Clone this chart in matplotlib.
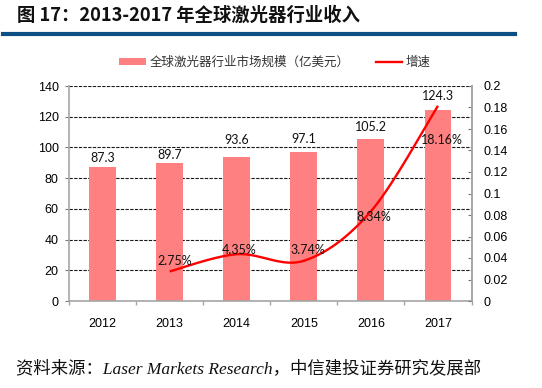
import numpy as np
import matplotlib
matplotlib.use('Agg')
import matplotlib.pyplot as plt
from matplotlib.lines import Line2D
from matplotlib.patches import Patch
from matplotlib.ticker import MultipleLocator, FixedLocator, FuncFormatter

plt.rcParams['font.family'] = ['Liberation Sans', 'Noto Sans CJK SC', 'DejaVu Sans']

years = ['2012', '2013', '2014', '2015', '2016', '2017']
market = [87.3, 89.7, 93.6, 97.1, 105.2, 124.3]
market_labels = ['87.3', '89.7', '93.6', '97.1', '105.2', '124.3']
growth_years = ['2013', '2014', '2015', '2016', '2017']
growth = [0.0275, 0.0435, 0.0374, 0.0834, 0.1816]
growth_labels = ['2.75%', '4.35%', '3.74%', '8.34%', '18.16%']

title = '图 17：2013-2017 年全球激光器行业收入'
source = '资料来源：Laser Markets Research，中信建投证券研究发展部'
bar_name = '全球激光器行业市场规模（亿美元）'
line_name = '增速'

# label offsets (pixels, dy positive = up)
bar_label_dy = [8.9, 8.2, 17.2, 12.8, 12.7, 14.1]
growth_label_off = [(5, 10.7), (2, 4.5), (4.5, 11), (3, -6), (3.5, -34)]

BAR_COLOR = '#ff8080'
LINE_COLOR = '#ff0000'
SPINE = '#a6a6a6'

W, H = 542, 388
fig = plt.figure(figsize=(W / 100, H / 100), dpi=100)

left, right, top, bottom = 69, 471.5, 86, 301
ax = fig.add_axes([left / W, 1 - bottom / H, (right - left) / W, (bottom - top) / H])

x = np.arange(len(years))
ax.bar(x, market, width=0.4, color=BAR_COLOR, zorder=2)
ax.set_xlim(-0.5, len(years) - 0.5)
ax.set_ylim(0, 140)
ax.yaxis.set_major_locator(MultipleLocator(20))
ax.grid(axis='y', linestyle=(0, (3, 1.2)), color='#1a1a1a', lw=0.8, zorder=1)
ax.set_axisbelow(True)

ax.set_xticks(x)
ax.set_xticklabels(years)
ax.xaxis.set_minor_locator(FixedLocator(np.arange(-0.5, len(years), 1.0)))
ax.tick_params(axis='x', which='major', length=0, pad=12, labelsize=9)
ax.tick_params(axis='x', which='minor', length=3, direction='out', color=SPINE, width=1)
ax.tick_params(axis='y', length=3, direction='out', color='#777777', width=0.8, pad=4.5, labelsize=9)

for s in ['top']:
    ax.spines[s].set_visible(False)
for s in ['left', 'bottom', 'right']:
    ax.spines[s].set_color(SPINE)
    ax.spines[s].set_linewidth(1.2)

for xi, v, lab, dy in zip(x, market, market_labels, bar_label_dy):
    ax.annotate(lab, (xi, v), xytext=(0, dy * 0.72), textcoords='offset points',
                ha='center', va='center', fontsize=9, family=['Lato', 'DejaVu Sans'],
                color='#111111', zorder=5)

ax2 = ax.twinx()
ax2.set_ylim(0, 0.2)
ax2.yaxis.set_major_locator(MultipleLocator(0.02))
ax2.yaxis.set_major_formatter(FuncFormatter(lambda v, p: '%g' % round(v, 2)))
ax2.tick_params(axis='y', length=3, direction='in', color='#777777', width=0.8, pad=9, labelsize=9)
for s in ['top', 'left', 'bottom']:
    ax2.spines[s].set_visible(False)
ax2.spines['right'].set_color(SPINE)
ax2.spines['right'].set_linewidth(1.2)


def smooth(px, py, n=40):
    P = np.column_stack([px, py]).astype(float)
    ext = np.vstack([P[0], P, P[-1]])
    out = []
    t = np.linspace(0, 1, n)[:, None]
    for i in range(len(P) - 1):
        p0, p1, p2, p3 = ext[i], ext[i + 1], ext[i + 2], ext[i + 3]
        c1 = p1 + (p2 - p0) / 6
        c2 = p2 - (p3 - p1) / 6
        seg = (1 - t) ** 3 * p1 + 3 * (1 - t) ** 2 * t * c1 + 3 * (1 - t) * t ** 2 * c2 + t ** 3 * p2
        out.append(seg if i == 0 else seg[1:])
    return np.vstack(out)


gx = np.array([years.index(y) for y in growth_years])
curve = smooth(gx, growth)
ax2.plot(curve[:, 0], curve[:, 1], color=LINE_COLOR, lw=1.7, solid_capstyle='butt', zorder=3)

for xi, v, lab, (dx, dy) in zip(gx, growth, growth_labels, growth_label_off):
    ax2.annotate(lab, (xi, v), xytext=(dx * 0.72, dy * 0.72), textcoords='offset points',
                 ha='center', va='center', fontsize=9, family=['Lato', 'DejaVu Sans'],
                 color='#111111', zorder=5)

# legend
handles = [Patch(facecolor=BAR_COLOR, edgecolor='none', label=bar_name),
           Line2D([], [], color=LINE_COLOR, lw=1.7, label=line_name)]
fig.legend(handles=handles, loc='center', bbox_to_anchor=(275 / W, 1 - 62 / H), ncol=2,
           frameon=False, handlelength=2.1, handleheight=0.5, handletextpad=0.3,
           columnspacing=2.1, prop={'family': ['Noto Sans CJK SC', 'DejaVu Sans'], 'size': 9},
           labelcolor='#333333')

# title and rule
fig.text(17 / W, 1 - 15 / H, title, fontsize=13.2, fontweight='bold', va='center', ha='left',
         family=['Noto Sans CJK SC', 'DejaVu Sans'], color='#111111')
fig.add_artist(Line2D([3 / W, 515 / W], [1 - 34 / H, 1 - 34 / H], color='#0d4e85', lw=3,
                      transform=fig.transFigure))

# source
fig.text(16 / W, 1 - 369 / H, source, fontsize=12.5, fontstyle='italic', va='center', ha='left',
         family=['Liberation Serif', 'Noto Sans CJK SC', 'DejaVu Sans'], color='#111111')

fig.savefig('out.png', dpi=100)
